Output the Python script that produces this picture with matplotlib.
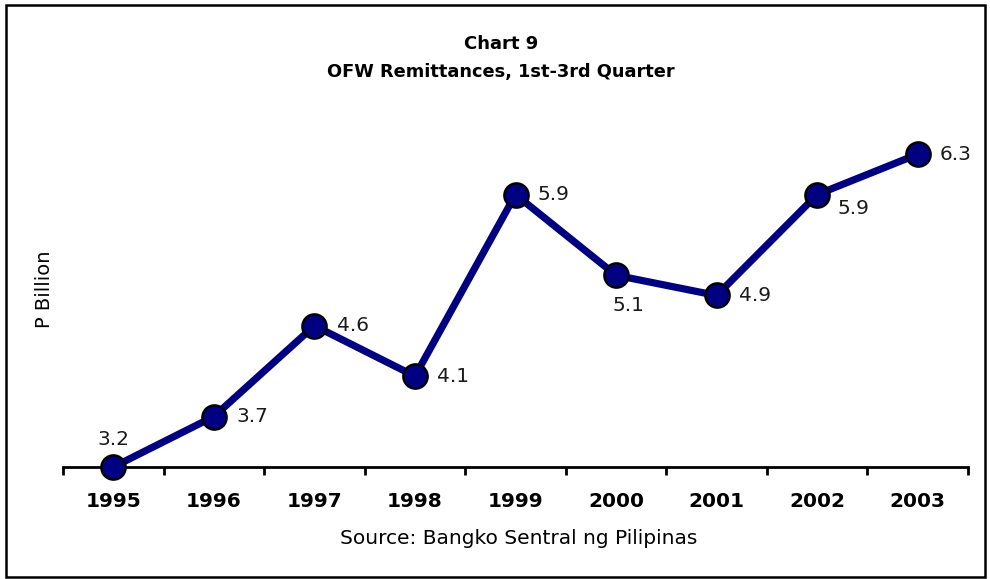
import matplotlib
matplotlib.use("Agg")
import matplotlib.pyplot as plt
from matplotlib.patches import Rectangle
from matplotlib.ticker import FixedLocator

years = ["1995", "1996", "1997", "1998", "1999", "2000", "2001", "2002", "2003"]
values = [3.2, 3.7, 4.6, 4.1, 5.9, 5.1, 4.9, 5.9, 6.3]
labels = ["3.2", "3.7", "4.6", "4.1", "5.9", "5.1", "4.9", "5.9", "6.3"]
# label placement: offset in points (dx, dy) and horizontal alignment
label_pos = [((0, 20), "center"), ((16, 0), "left"), ((16, 0), "left"),
             ((16, 0), "left"), ((16, 0), "left"), ((9, -22), "center"),
             ((16, 0), "left"), ((15, -10), "left"), ((16, 0), "left")]

plt.rcParams['font.family'] = ['DejaVu Sans']

fig = plt.figure(figsize=(9.9, 5.79), dpi=100)
W, H = 990, 579
ax = fig.add_axes([63 / W, 1 - 467 / H, (968 - 63) / W, (467 - 130) / H])

x = list(range(len(years)))
ax.plot(x, values, color="#000080", lw=5.2, marker="o", markersize=17.5,
        markerfacecolor="#000080", markeredgecolor="black", markeredgewidth=1.7,
        solid_joinstyle="round", clip_on=False, zorder=3)

for xi, v, lab, (off, ha) in zip(x, values, labels, label_pos):
    ax.annotate(lab, (xi, v), xytext=off, textcoords="offset points",
                ha=ha, va="center", fontsize=14.5, color="#1a1a1a")

ax.set_xlim(-0.5, len(years) - 0.5)
ax.set_ylim(3.2, 6.54)
ax.set_xticks(x)
ax.set_xticklabels(years, fontsize=14.5, fontweight="bold")
ax.xaxis.set_minor_locator(FixedLocator([i - 0.5 for i in range(len(years) + 1)]))
ax.tick_params(axis="x", which="major", length=0, pad=18)
ax.tick_params(axis="x", which="minor", length=6, width=2, direction="out", color="black")
ax.set_yticks([])
for s in ["top", "right", "left"]:
    ax.spines[s].set_visible(False)
ax.spines["bottom"].set_linewidth(2)
ax.patch.set_alpha(0)

fig.text(501 / W, 1 - 44 / H, "Chart 9", ha="center", va="center",
         fontsize=13, fontweight="bold")
fig.text(501 / W, 1 - 72 / H, "OFW Remittances, 1st-3rd Quarter", ha="center",
         va="center", fontsize=12.8, fontweight="bold")
fig.text(45 / W, 1 - 289 / H, "P Billion", ha="center", va="center",
         rotation=90, fontsize=14)
fig.text(519 / W, 1 - 538 / H, "Source: Bangko Sentral ng Pilipinas",
         ha="center", va="center", fontsize=14.5)

fig.patches.append(Rectangle((6 / W, 1 - 577 / H), (985 - 6) / W, (577 - 5) / H,
                             transform=fig.transFigure, fill=False,
                             edgecolor="black", lw=1.8))

fig.savefig("out.png", dpi=100)
